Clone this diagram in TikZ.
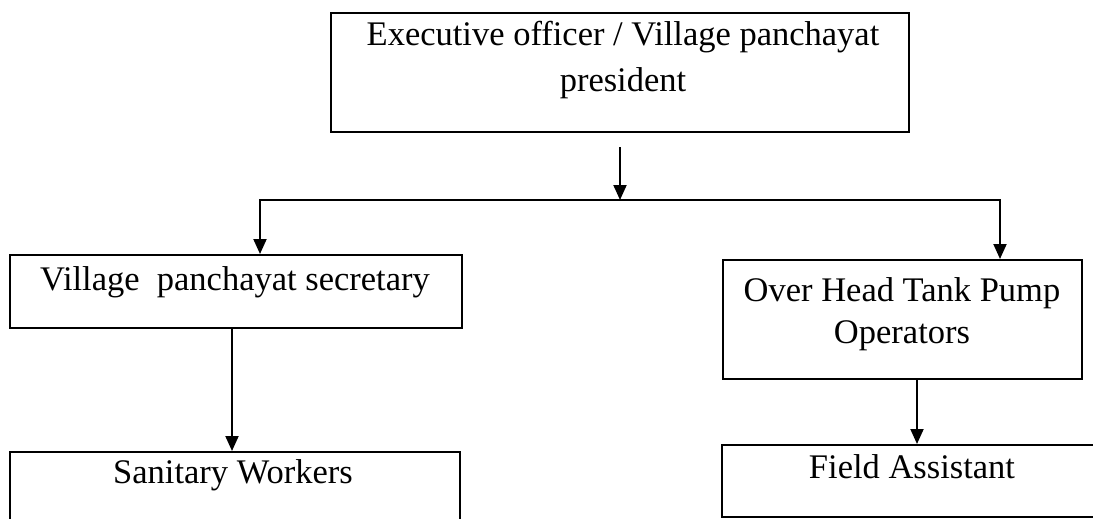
\documentclass[tikz,border=0pt]{standalone}
\usepackage{fontspec}
\setmainfont{Liberation Serif}
\usetikzlibrary{arrows.meta}
\begin{document}
\begin{tikzpicture}[x=1pt,y=-1pt,
  box/.style={draw=black, line width=2pt, rectangle, inner sep=0pt},
  txt/.style={inner sep=0pt, anchor=base, font=\fontsize{34.5}{46}\selectfont},
  arr/.style={line width=2pt, -{Triangle[length=15pt,width=13pt]}},
  ln/.style={line width=2pt}]
\useasboundingbox (0,0) rectangle (1093,519);
\clip (0,0) rectangle (1093,519);
% boxes
\node[box, minimum width=578pt, minimum height=119pt] (top) at (620,72.5) {};
\node[box, minimum width=452pt, minimum height=73pt] (sec) at (236,291.5) {};
\node[box, minimum width=359pt, minimum height=119pt] (oht) at (902.5,319.5) {};
\node[box, minimum width=450pt, minimum height=88pt] (san) at (235,496) {};
\node[box, minimum width=398pt, minimum height=72pt] (fa) at (921,481) {};
% texts
\node[txt] (ttop) at (623,46) {\begin{tabular}[t]{@{}c@{}}Executive officer / Village panchayat\\president\end{tabular}};
\node[txt] (tsec) at (235,290) {Village\ \ panchayat secretary};
\node[txt, font=\fontsize{34.5}{42}\selectfont] (toht) at (902,301) {\begin{tabular}[t]{@{}c@{}}Over Head Tank Pump\\Operators\end{tabular}};
\node[txt] (tsan) at (233,483) {Sanitary Workers};
\node[txt] (tfa) at (912,478) {Field Assistant};
% connectors
\coordinate (j) at (620,200);
\draw[arr] ([yshift=-14pt]top.south) -- (j);
\draw[arr] (j) -| ([xshift=24pt]sec.north);
\draw[arr] (j) -| ([xshift=97.5pt]oht.north);
\draw[arr] ([xshift=-4pt]sec.south) -- ([xshift=-4pt]sec.south |- san.north);
\draw[arr] ([xshift=14.5pt]oht.south) -- ([xshift=14.5pt]oht.south |- fa.north);
\end{tikzpicture}
\end{document}
